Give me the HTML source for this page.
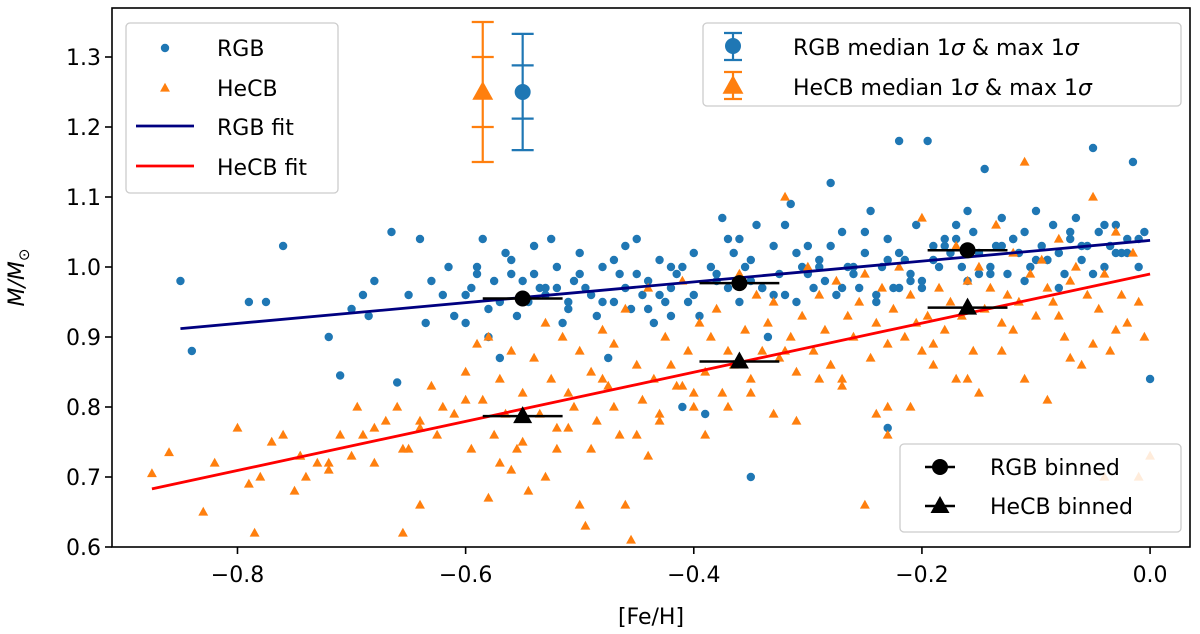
<!DOCTYPE html>
<html><head><meta charset="utf-8"><style>
html,body{margin:0;padding:0;background:#fff;}
svg{display:block;font-family:"DejaVu Sans","Liberation Sans",sans-serif;}
</style></head><body>
<svg id="chart" width="1200" height="634" viewBox="0 0 1200 634" xmlns="http://www.w3.org/2000/svg">
<g id="marks"></g>
<g id="axes"></g>
<g id="legends"></g>
</svg>
<script>
const xTicks=[-0.8,-0.6,-0.4,-0.2,0.0];
const xTickLabels=["\u22120.8","\u22120.6","\u22120.4","\u22120.2","0.0"];
const yTicks=[0.6,0.7,0.8,0.9,1.0,1.1,1.2,1.3];
const yTickLabels=["0.6","0.7","0.8","0.9","1.0","1.1","1.2","1.3"];
const rgbX=[-0.85,-0.84,-0.79,-0.775,-0.76,-0.72,-0.71,-0.70,-0.69,-0.685,-0.68,-0.665,-0.66,-0.65,-0.64,-0.635,-0.63,-0.62,-0.615,-0.61,-0.60,-0.595,-0.59,-0.585,-0.58,-0.575,-0.57,-0.565,-0.56,-0.555,-0.55,-0.545,-0.54,-0.535,-0.53,-0.525,-0.52,-0.515,-0.51,-0.505,-0.50,-0.495,-0.49,-0.485,-0.48,-0.475,-0.47,-0.465,-0.46,-0.455,-0.45,-0.445,-0.44,-0.435,-0.43,-0.425,-0.42,-0.415,-0.41,-0.405,-0.40,-0.395,-0.39,-0.385,-0.38,-0.375,-0.37,-0.365,-0.36,-0.355,-0.35,-0.345,-0.34,-0.335,-0.33,-0.325,-0.32,-0.315,-0.31,-0.305,-0.30,-0.295,-0.29,-0.285,-0.28,-0.275,-0.27,-0.265,-0.26,-0.255,-0.25,-0.245,-0.24,-0.235,-0.23,-0.225,-0.22,-0.215,-0.21,-0.205,-0.20,-0.195,-0.19,-0.185,-0.18,-0.175,-0.17,-0.165,-0.16,-0.155,-0.15,-0.145,-0.14,-0.135,-0.13,-0.125,-0.12,-0.115,-0.11,-0.105,-0.10,-0.095,-0.09,-0.085,-0.08,-0.075,-0.07,-0.065,-0.06,-0.055,-0.05,-0.045,-0.04,-0.035,-0.03,-0.025,-0.02,-0.015,-0.01,-0.005,0.0,
-0.60,-0.58,-0.56,-0.54,-0.52,-0.50,-0.48,-0.46,-0.44,-0.42,-0.40,-0.38,-0.36,-0.34,-0.32,-0.30,-0.28,-0.26,-0.24,-0.22,-0.20,-0.18,-0.16,-0.14,-0.12,-0.10,-0.08,-0.06,-0.04,-0.02,
-0.59,-0.57,-0.53,-0.51,-0.47,-0.45,-0.43,-0.41,-0.37,-0.35,-0.33,-0.31,-0.29,-0.27,-0.25,-0.23,-0.21,-0.19,-0.17,-0.15,-0.13,-0.11,-0.09,-0.07,-0.05,-0.03,-0.01,-0.35,-0.23,-0.22,-0.42];
const rgbY=[0.98,0.88,0.95,0.95,1.03,0.90,0.845,0.94,0.96,0.93,0.98,1.05,0.835,0.96,1.04,0.92,0.98,0.96,1.00,0.93,0.92,0.97,1.00,1.04,0.94,0.98,0.87,1.02,0.99,0.93,0.98,0.95,1.03,0.97,0.96,1.04,1.00,0.92,0.95,0.98,0.99,0.97,0.96,0.93,1.00,0.87,0.95,0.99,0.97,0.94,1.04,0.96,0.98,0.92,1.01,0.95,0.97,0.99,0.80,0.95,0.96,0.93,0.79,1.00,0.98,1.07,0.97,1.02,0.95,1.00,0.98,1.06,0.97,0.90,1.03,0.99,0.96,1.09,0.95,1.00,1.03,0.97,1.01,0.98,1.12,0.96,1.05,1.00,0.99,0.97,1.02,1.08,0.96,1.00,1.04,0.97,1.18,1.01,0.99,1.06,0.98,1.18,1.03,1.00,1.04,1.02,1.06,1.00,0.98,1.05,1.02,1.14,1.00,1.03,1.07,0.99,1.04,1.02,1.05,1.00,1.08,1.03,1.01,1.06,1.02,0.99,1.04,1.07,1.01,1.03,1.17,1.05,1.00,1.03,1.06,1.02,1.04,1.15,1.00,1.05,0.84,
0.96,0.90,1.01,0.99,0.97,1.02,0.95,1.03,0.94,1.00,1.02,0.99,1.04,0.97,1.06,0.99,1.03,1.00,0.95,1.02,0.97,1.03,1.08,0.99,1.04,1.01,0.97,1.03,1.06,1.02,
0.99,0.95,0.97,0.94,1.01,0.99,0.96,1.00,1.04,1.01,0.96,1.02,1.00,0.97,1.05,1.01,0.98,1.01,1.04,0.99,1.03,0.98,1.01,1.05,0.99,1.02,1.04,0.70,0.77,0.97,0.93];
const hecbX=[-0.875,-0.86,-0.83,-0.82,-0.80,-0.79,-0.785,-0.77,-0.76,-0.745,-0.74,-0.73,-0.72,-0.71,-0.70,-0.695,-0.69,-0.68,-0.67,-0.66,-0.655,-0.65,-0.64,-0.63,-0.625,-0.62,-0.61,-0.60,-0.595,-0.59,-0.585,-0.58,-0.575,-0.57,-0.565,-0.56,-0.555,-0.55,-0.545,-0.54,-0.535,-0.53,-0.525,-0.52,-0.515,-0.51,-0.505,-0.50,-0.495,-0.49,-0.485,-0.48,-0.475,-0.47,-0.465,-0.46,-0.455,-0.45,-0.445,-0.44,-0.435,-0.43,-0.425,-0.42,-0.415,-0.41,-0.405,-0.40,-0.395,-0.39,-0.385,-0.38,-0.375,-0.37,-0.365,-0.36,-0.355,-0.35,-0.345,-0.34,-0.335,-0.33,-0.325,-0.32,-0.315,-0.31,-0.305,-0.30,-0.295,-0.29,-0.285,-0.28,-0.275,-0.27,-0.265,-0.26,-0.255,-0.25,-0.245,-0.24,-0.235,-0.23,-0.225,-0.22,-0.215,-0.21,-0.205,-0.20,-0.195,-0.19,-0.185,-0.18,-0.175,-0.17,-0.165,-0.16,-0.155,-0.15,-0.145,-0.14,-0.135,-0.13,-0.125,-0.12,-0.115,-0.11,-0.105,-0.10,-0.095,-0.09,-0.085,-0.08,-0.075,-0.07,-0.065,-0.06,-0.055,-0.05,-0.045,-0.04,-0.035,-0.03,-0.025,-0.02,-0.015,-0.01,-0.005,0.0,
-0.78,-0.75,-0.72,-0.68,-0.64,-0.60,-0.57,-0.55,-0.53,-0.51,-0.49,-0.47,-0.45,-0.43,-0.41,-0.39,-0.37,-0.35,-0.33,-0.31,-0.29,-0.27,-0.25,-0.23,-0.21,-0.19,-0.17,-0.15,-0.13,-0.11,-0.09,-0.07,-0.05,-0.03,-0.01,
-0.58,-0.56,-0.52,-0.48,-0.44,-0.40,-0.36,-0.32,-0.28,-0.24,-0.20,-0.16,-0.12,-0.08,-0.04,-0.46,-0.50,-0.655,-0.64,-0.745,-0.23,-0.06];
const hecbY=[0.705,0.735,0.65,0.72,0.77,0.69,0.62,0.75,0.76,0.73,0.70,0.72,0.71,0.76,0.73,0.80,0.76,0.72,0.78,0.80,0.62,0.74,0.78,0.83,0.76,0.80,0.79,0.85,0.74,0.89,0.81,0.90,0.76,0.84,0.79,0.88,0.74,0.82,0.68,0.87,0.79,0.92,0.84,0.77,0.90,0.82,0.80,0.88,0.63,0.85,0.78,0.91,0.83,0.89,0.76,0.94,0.61,0.86,0.81,0.97,0.84,0.79,0.90,0.86,0.83,0.98,0.88,0.80,0.92,0.85,0.90,0.94,0.82,0.88,0.86,0.99,0.91,0.84,0.96,0.88,0.92,0.95,0.87,1.10,0.90,0.85,0.93,1.00,0.88,0.96,0.91,0.86,0.98,0.84,0.93,0.90,0.95,0.99,0.87,0.92,0.97,0.89,0.94,1.00,0.90,0.96,0.92,1.07,0.93,0.89,0.97,0.91,0.95,1.03,0.93,0.98,0.88,1.00,0.94,0.97,1.06,0.92,0.96,1.02,0.95,1.15,0.99,0.93,1.01,0.97,0.95,1.04,0.90,0.98,1.00,0.86,0.96,1.10,0.94,0.99,0.88,1.05,0.96,0.92,1.02,0.95,0.90,
0.73,0.70,0.68,0.72,0.77,0.66,0.81,0.72,0.75,0.70,0.77,0.74,0.80,0.76,0.78,0.83,0.76,0.80,0.82,0.79,0.78,0.84,0.83,0.66,0.76,0.80,0.86,0.84,0.82,0.88,0.84,0.81,0.87,0.89,0.91,
0.70,0.67,0.71,0.74,0.84,0.73,0.82,0.87,0.88,0.86,0.79,0.88,0.84,0.91,0.93,0.70,0.66,0.66,0.74,0.77,0.73,0.80];
const rgbFitX=[-0.85,0.0], rgbFitY=[0.912,1.038];
const hecbFitX=[-0.875,0.0], hecbFitY=[0.683,0.990];
const binX=[-0.55,-0.36,-0.16];
const rgbBinY=[0.955,0.977,1.024];
const hecbBinY=[0.787,0.865,0.942];
const binXErr=[0.035,0.035,0.035];
const errPtX=[-0.55,-0.585], errPtY=[1.25,1.25], errInner=[0.038,0.05], errOuter=[0.083,0.10];

const X0=112,X1=1190,Y0=547,Y1=8;
const xmin=-0.91,xmax=0.035,ymin=0.6,ymax=1.37;
const sx=v=>X0+(v-xmin)/(xmax-xmin)*(X1-X0);
const sy=v=>Y0-(v-ymin)/(ymax-ymin)*(Y0-Y1);
const NS="http://www.w3.org/2000/svg";
function mk(tag,attrs,parent){const e=document.createElementNS(NS,tag);for(const k in attrs)e.setAttribute(k,attrs[k]);parent.appendChild(e);return e;}
const marks=document.getElementById('marks'),axes=document.getElementById('axes'),leg=document.getElementById('legends');
const BLUE="#1f77b4",ORANGE="#ff7f0e";
function tri(cx,cy,r){return `${cx},${cy-r} ${cx-r*0.95},${cy+r*0.7} ${cx+r*0.95},${cy+r*0.7}`;}
for(let i=0;i<rgbX.length;i++){const c=mk('circle',{cx:sx(rgbX[i]),cy:sy(rgbY[i]),r:4.2,fill:BLUE},marks);

}
for(let i=0;i<hecbX.length;i++){const p=mk('polygon',{points:tri(sx(hecbX[i]),sy(hecbY[i]),5.2),fill:ORANGE},marks);

}
const l1=mk('line',{x1:sx(rgbFitX[0]),y1:sy(rgbFitY[0]),x2:sx(rgbFitX[1]),y2:sy(rgbFitY[1]),stroke:"#000080","stroke-width":2.8},marks);


const l2=mk('line',{x1:sx(hecbFitX[0]),y1:sy(hecbFitY[0]),x2:sx(hecbFitX[1]),y2:sy(hecbFitY[1]),stroke:"#ff0000","stroke-width":2.8},marks);


for(let i=0;i<binX.length;i++){
 const g=mk('g',{},marks);
 
 
 mk('line',{x1:sx(binX[i]-binXErr[i]),x2:sx(binX[i]+binXErr[i]),y1:sy(rgbBinY[i]),y2:sy(rgbBinY[i]),stroke:"#000","stroke-width":2.5},g);
 mk('line',{x1:sx(binX[i]),x2:sx(binX[i]),y1:sy(rgbBinY[i])-6,y2:sy(rgbBinY[i])+6,stroke:"#000","stroke-width":2.5},g);
 mk('circle',{cx:sx(binX[i]),cy:sy(rgbBinY[i]),r:8,fill:"#000"},g);
 const h=mk('g',{},marks);
 
 
 mk('line',{x1:sx(binX[i]-binXErr[i]),x2:sx(binX[i]+binXErr[i]),y1:sy(hecbBinY[i]),y2:sy(hecbBinY[i]),stroke:"#000","stroke-width":2.5},h);
 mk('polygon',{points:tri(sx(binX[i]),sy(hecbBinY[i]),10),fill:"#000"},h);
}
const errCols=[BLUE,ORANGE];
for(let i=0;i<2;i++){
 const g=mk('g',{},marks);
 
 
 const cx=sx(errPtX[i]),c=errCols[i];
 mk('line',{x1:cx,x2:cx,y1:sy(errPtY[i]+errOuter[i]),y2:sy(errPtY[i]-errOuter[i]),stroke:c,"stroke-width":2.2},g);
 for(const e of [errOuter[i],-errOuter[i],errInner[i],-errInner[i]])mk('line',{x1:cx-11,x2:cx+11,y1:sy(errPtY[i]+e),y2:sy(errPtY[i]+e),stroke:c,"stroke-width":2.2},g);
 if(i==0)mk('circle',{cx:cx,cy:sy(errPtY[i]),r:8,fill:c},g);
 else mk('polygon',{points:tri(cx,sy(errPtY[i]),11),fill:c},g);
}
// axes
mk('rect',{x:X0,y:Y1,width:X1-X0,height:Y0-Y1,fill:"none",stroke:"#000","stroke-width":1.6},axes);
for(let i=0;i<xTicks.length;i++){const x=sx(xTicks[i]);mk('line',{x1:x,x2:x,y1:Y0,y2:Y0+7,stroke:"#000","stroke-width":1.6},axes);
 const t=mk('text',{x:x,y:Y0+35,"text-anchor":"middle","font-size":22},axes);t.textContent=xTickLabels[i];
 
 }
for(let i=0;i<yTicks.length;i++){const y=sy(yTicks[i]);mk('line',{x1:X0-7,x2:X0,y1:y,y2:y,stroke:"#000","stroke-width":1.6},axes);
 const t=mk('text',{x:X0-11,y:y+8,"text-anchor":"end","font-size":22},axes);t.textContent=yTickLabels[i];
 
 }
const xt=mk('text',{x:(X0+X1)/2,y:624,"text-anchor":"middle","font-size":22},axes);xt.textContent="[Fe/H]";


const yt=mk('text',{transform:`translate(24,${(Y0+Y1)/2}) rotate(-90)`,"text-anchor":"middle","font-size":22,"font-style":"italic"},axes);
yt.innerHTML='M/M<tspan font-size="15" dy="5" font-style="normal">\u2299</tspan>';


// legends
function box(x,y,w,h,name){const r=mk('rect',{x:x,y:y,width:w,height:h,rx:4,fill:"#fff","fill-opacity":0.85,stroke:"#ccc","stroke-width":1.3},leg);
 
 }
function txt(x,y,s,name){const t=mk('text',{x:x,y:y,"font-size":22},leg);t.innerHTML=s;
 
 }
box(126,23,212,170,'legend-top-left');
mk('circle',{cx:165,cy:48,r:4.2,fill:BLUE},leg);txt(217,56,'RGB','legend-rgb');
mk('polygon',{points:tri(165,88,5.2),fill:ORANGE},leg);txt(217,96,'HeCB','legend-hecb');
mk('line',{x1:136,x2:194,y1:126,y2:126,stroke:"#000080","stroke-width":2.8},leg);txt(217,135,'RGB fit','legend-rgb-fit');
mk('line',{x1:136,x2:194,y1:166,y2:166,stroke:"#ff0000","stroke-width":2.8},leg);txt(217,175,'HeCB fit','legend-hecb-fit');
box(703,23,478,83,'legend-top-right');
mk('line',{x1:733,x2:733,y1:33,y2:60,stroke:BLUE,"stroke-width":2.2},leg);
mk('line',{x1:724,x2:742,y1:33,y2:33,stroke:BLUE,"stroke-width":2.2},leg);mk('line',{x1:724,x2:742,y1:60,y2:60,stroke:BLUE,"stroke-width":2.2},leg);
mk('circle',{cx:733,cy:46,r:8,fill:BLUE},leg);
txt(793,55,'RGB median 1<tspan font-style="italic">σ</tspan> &amp; max 1<tspan font-style="italic">σ</tspan>','legend-rgb-error');
mk('line',{x1:733,x2:733,y1:72,y2:99,stroke:ORANGE,"stroke-width":2.2},leg);
mk('line',{x1:724,x2:742,y1:72,y2:72,stroke:ORANGE,"stroke-width":2.2},leg);mk('line',{x1:724,x2:742,y1:99,y2:99,stroke:ORANGE,"stroke-width":2.2},leg);
mk('polygon',{points:tri(733,86,11),fill:ORANGE},leg);
txt(793,95,'HeCB median 1<tspan font-style="italic">σ</tspan> &amp; max 1<tspan font-style="italic">σ</tspan>','legend-hecb-error');
box(900,444,281,88,'legend-bottom-right');
mk('line',{x1:925,x2:955,y1:467,y2:467,stroke:"#000","stroke-width":2.5},leg);
mk('line',{x1:940,x2:940,y1:460,y2:474,stroke:"#000","stroke-width":2.5},leg);
mk('circle',{cx:940,cy:467,r:8,fill:"#000"},leg);txt(990,475,'RGB binned','legend-rgb-binned');
mk('line',{x1:925,x2:955,y1:506,y2:506,stroke:"#000","stroke-width":2.5},leg);
mk('polygon',{points:tri(940,506,10),fill:"#000"},leg);txt(990,514,'HeCB binned','legend-hecb-binned');
</script>
</body></html>
